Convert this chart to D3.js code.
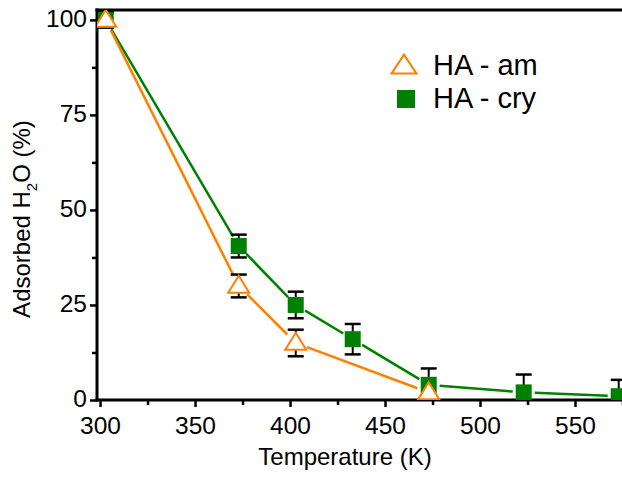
<!DOCTYPE html>
<html><head><meta charset="utf-8">
<script src="https://cdn.jsdelivr.net/npm/d3@7"></script>
<style>html,body{margin:0;padding:0;background:#fff;}svg{display:block;font-family:Arial,"Liberation Sans",sans-serif;}</style>
</head><body>
<div id="chart"></div>
<script>
const temps_am = [303, 373, 403, 473];
const values_am = [100, 30, 15, 2];
const errors_am = [2, 3, 3.5, 0];
const temps_cry = [303, 373, 403, 433, 473, 523, 573];
const values_cry = [100, 40.5, 25, 16, 4, 2, 1];
const errors_cry = [2, 3, 3.5, 4, 4.3, 4.7, 4.3];
const xTicks = [300, 350, 400, 450, 500, 550];
const xMinor = [325, 375, 425, 475, 525, 575];
const yTicks = [0, 25, 50, 75, 100];
const yMinor = [12.5, 37.5, 62.5, 87.5];
const legendLabels = ["HA - am", "HA - cry"];

const W = 622, H = 477;
const svg = d3.select("#chart").append("svg").attr("width", W).attr("height", H);
const x = d3.scaleLinear().domain([298.4, 585]).range([97, 641.5]);
const y = d3.scaleLinear().domain([0, 102.6]).range([400, 10]);
const orange = "#FF8000", green = "#008000";

svg.append("clipPath").attr("id","c").append("rect").attr("x",97).attr("y",10).attr("width",W-97).attr("height",390);

// axes
const gx = svg.append("g").attr("transform","translate(0,400)")
  .call(d3.axisBottom(x).tickValues(xTicks).tickSize(7).tickPadding(10).tickFormat(d3.format("d")));
const gxm = svg.append("g").attr("transform","translate(0,400)")
  .call(d3.axisBottom(x).tickValues(xMinor).tickSize(5).tickFormat(""));
const gy = svg.append("g").attr("transform","translate(97,0)")
  .call(d3.axisLeft(y).tickValues(yTicks).tickSize(7).tickPadding(3).tickFormat(d3.format("d")));
const gym = svg.append("g").attr("transform","translate(97,0)")
  .call(d3.axisLeft(y).tickValues(yMinor).tickSize(5).tickFormat(""));
[gx,gxm,gy,gym].forEach(g=>{
  g.select(".domain").remove();
  g.selectAll(".tick line").attr("stroke","#000").attr("stroke-width",2.5);
  g.selectAll(".tick text").attr("fill","#000").style("font-size","24.5px").style("font-family","Arial, 'Liberation Sans', sans-serif");
});
gy.selectAll(".tick text").attr("dy","0.26em");
// frame lines
svg.append("line").attr("x1",95.5).attr("x2",W).attr("y1",10).attr("y2",10).attr("stroke","#000").attr("stroke-width",3);
svg.append("line").attr("x1",97).attr("x2",97).attr("y1",8.5).attr("y2",401.5).attr("stroke","#000").attr("stroke-width",3);
svg.append("line").attr("x1",95.5).attr("x2",W).attr("y1",400).attr("y2",400).attr("stroke","#000").attr("stroke-width",3);

const plot = svg.append("g").attr("clip-path","url(#c)");

function gappedLine(ts, vs, color, gap){
  for(let i=0;i<ts.length-1;i++){
    const x1=x(ts[i]), y1=y(vs[i]), x2=x(ts[i+1]), y2=y(vs[i+1]);
    const dx=x2-x1, dy=y2-y1, L=Math.hypot(dx,dy);
    if(L<2*gap) continue;
    const ux=dx/L, uy=dy/L;
    plot.append("line").attr("x1",x1+ux*gap).attr("y1",y1+uy*gap).attr("x2",x2-ux*gap).attr("y2",y2-uy*gap)
      .attr("stroke",color).attr("stroke-width",2.5);
  }
}
gappedLine(temps_cry, values_cry, green, 11);
gappedLine(temps_am, values_am, orange, 12);

function errBars(ts, vs, es){
  ts.forEach((t,i)=>{
    if(!es[i]) return;
    const cx=x(t), yt=y(vs[i]+es[i]), yb=y(vs[i]-es[i]);
    plot.append("line").attr("x1",cx).attr("x2",cx).attr("y1",yt).attr("y2",yb).attr("stroke","#000").attr("stroke-width",2);
    [yt,yb].forEach(yy=>plot.append("line").attr("x1",cx-8).attr("x2",cx+8).attr("y1",yy).attr("y2",yy).attr("stroke","#000").attr("stroke-width",2.5));
  });
}
errBars(temps_cry, values_cry, errors_cry);
errBars(temps_am, values_am, errors_am);

// markers
const tri = (cx,cy,w,h)=>`M${cx},${cy-h*0.6}L${cx+w/2},${cy+h*0.4}L${cx-w/2},${cy+h*0.4}Z`;
temps_cry.forEach((t,i)=>{
  plot.append("rect").attr("x",x(t)-8).attr("y",y(values_cry[i])-8).attr("width",16).attr("height",16).attr("fill",green);
});
temps_am.forEach((t,i)=>{
  plot.append("path").attr("d",tri(x(t),y(values_am[i]),21,17)).attr("fill","#fff").attr("stroke",orange).attr("stroke-width",2);
});

// legend
svg.append("path").attr("d",tri(404,66,25,19)).attr("fill","#fff").attr("stroke",orange).attr("stroke-width",2);
svg.append("rect").attr("x",397).attr("y",90).attr("width",18).attr("height",18).attr("fill",green);
svg.append("text").attr("x",433).attr("y",75).text(legendLabels[0]).style("font-size","29px").attr("fill","#000");
svg.append("text").attr("x",433).attr("y",108).text(legendLabels[1]).style("font-size","29px").attr("fill","#000");

// axis titles
svg.append("text").attr("x",345).attr("y",465).attr("text-anchor","middle").style("font-size","24px").attr("fill","#000").text("Temperature (K)");
const yl = svg.append("text").attr("transform","translate(30,219) rotate(-90)").attr("text-anchor","middle").style("font-size","24px").attr("fill","#000");
yl.append("tspan").text("Adsorbed H");
yl.append("tspan").text("2").style("font-size","15px").attr("dy",7);
yl.append("tspan").text("O (%)").attr("dy",-7);
</script>
</body></html>
